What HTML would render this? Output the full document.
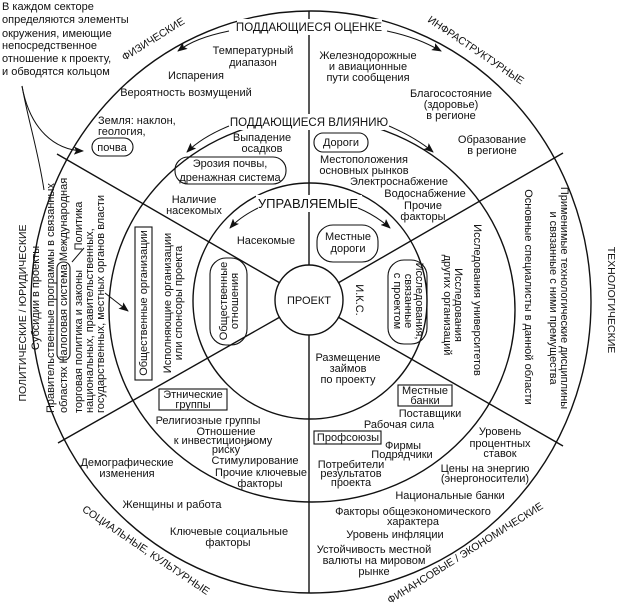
<!DOCTYPE html>
<html><head><meta charset="utf-8">
<style>
html,body{margin:0;padding:0;background:#fff;}
svg{display:block;font-family:"Liberation Sans",Arial,sans-serif;}
text{font-size:11px;fill:#111;}
.c{text-anchor:middle;}
.cap{font-size:11.5px;}
</style></head><body>
<svg width="620" height="603" viewBox="0 0 620 603" xmlns="http://www.w3.org/2000/svg">
<defs>
<marker id="ah" markerWidth="10" markerHeight="8" refX="9" refY="4" orient="auto" markerUnits="userSpaceOnUse">
<path d="M0,0 L10,4 L0,8 L2,4 Z" fill="#111"/>
</marker>
</defs>
<g fill="none" stroke="#111" stroke-width="1.4">
<ellipse cx="311" cy="302" rx="280" ry="291"/>
<ellipse cx="312" cy="310" rx="203" ry="192"/>
<ellipse cx="310" cy="301" rx="117" ry="118"/>
<ellipse cx="309" cy="300" rx="34" ry="35"/>
<line x1="309" y1="11" x2="309" y2="265"/>
<line x1="309" y1="335" x2="309" y2="593"/>
<line x1="280" y1="283" x2="57" y2="154"/>
<line x1="338" y1="283" x2="563" y2="153"/>
<line x1="280" y1="317" x2="58" y2="443"/>
<line x1="338" y1="317" x2="563" y2="446"/>
</g>
<g fill="#fff">
<rect x="237" y="19" width="145" height="16"/>
<rect x="235" y="114" width="149" height="16"/>
<rect x="256" y="195" width="106" height="17"/>
</g>
<!-- callout lines -->
<g fill="none" stroke="#111" stroke-width="1">
<path d="M22,86 C30,130 55,150 83,151" marker-end="url(#ah)"/>
<path d="M22,86 C28,120 38,150 44,190"/>
<path d="M105,293 L128,311" marker-end="url(#ah)"/>
<path d="M229,31 C205,36 190,42 178,51" marker-end="url(#ah)"/>
<path d="M387,31 C410,36 425,42 441,51" marker-end="url(#ah)"/>
<path d="M229,126 C212,133 198,141 187,152" marker-end="url(#ah)"/>
<path d="M389,126 C405,133 420,141 433,152" marker-end="url(#ah)"/>
<path d="M258,208 C248,213 238,219 230,228" marker-end="url(#ah)"/>
<path d="M358,208 C370,213 380,219 390,228" marker-end="url(#ah)"/>
<path d="M244,446 L252,441"/>
<path d="M84,248 L72,262"/>
</g>
<!-- blobs and boxes -->
<g fill="none" stroke="#111" stroke-width="1.1">
<rect x="92" y="138" width="41" height="18" rx="9"/>
<rect x="314" y="133" width="54" height="19" rx="9"/>
<rect x="175" y="157" width="111" height="27" rx="13"/>
<rect x="317" y="225" width="61" height="37" rx="16"/>
<rect x="210" y="258" width="37" height="87" rx="16"/>
<rect x="388" y="260" width="39" height="84" rx="16"/>
<rect x="57" y="262" width="13" height="98" rx="6"/>
<rect x="135" y="227" width="17" height="153"/>
<rect x="159" y="389" width="68" height="21"/>
<rect x="398" y="385" width="54" height="21"/>
<rect x="314" y="431" width="67" height="13"/>
</g>
<!-- top-left note -->
<text x="2" y="10">В каждом секторе</text>
<text x="2" y="23">определяются элементы</text>
<text x="2" y="37">окружения, имеющие</text>
<text x="2" y="49">непосредственное</text>
<text x="2" y="62">отношение к проекту,</text>
<text x="2" y="75">и обводятся кольцом</text>
<!-- ring headers -->
<text class="c cap" x="309" y="31">ПОДДАЮЩИЕСЯ ОЦЕНКЕ</text>
<text class="c cap" x="309" y="126">ПОДДАЮЩИЕСЯ ВЛИЯНИЮ</text>
<text class="c" x="308" y="208" style="font-size:13px">УПРАВЛЯЕМЫЕ</text>
<text class="c" x="309" y="304">ПРОЕКТ</text>
<!-- sector titles -->
<text class="c" style="font-size:10.5px" transform="translate(155,42) rotate(-32)">ФИЗИЧЕСКИЕ</text>
<text class="c" style="font-size:10.5px" transform="translate(474,53) rotate(34)">ИНФРАСТРУКТУРНЫЕ</text>
<text class="c" style="font-size:10.5px" transform="translate(608,300) rotate(90)">ТЕХНОЛОГИЧЕСКИЕ</text>
<text class="c" style="font-size:10.5px" transform="translate(26,313) rotate(-90)">ПОЛИТИЧЕСКИЕ / ЮРИДИЧЕСКИЕ</text>
<text class="c" style="font-size:10.5px" transform="translate(144,553) rotate(34)">СОЦИАЛЬНЫЕ, КУЛЬТУРНЫЕ</text>
<text class="c" style="font-size:10.5px" transform="translate(467,556) rotate(-32)">ФИНАНСОВЫЕ / ЭКОНОМИЧЕСКИЕ</text>
<!-- physical outer -->
<text class="c" x="253" y="54">Температурный</text>
<text class="c" x="253" y="66">диапазон</text>
<text class="c" x="196" y="79">Испарения</text>
<text class="c" x="186" y="96">Вероятность возмущений</text>
<text x="98" y="124">Земля: наклон,</text>
<text x="98" y="135">геология,</text>
<text class="c" x="112" y="151">почва</text>
<!-- infra outer -->
<text class="c" x="368" y="59">Железнодорожные</text>
<text class="c" x="368" y="70">и авиационные</text>
<text class="c" x="368" y="81">пути сообщения</text>
<text class="c" x="451" y="97">Благосостояние</text>
<text class="c" x="451" y="108">(здоровье)</text>
<text class="c" x="451" y="119">в регионе</text>
<text class="c" x="492" y="143">Образование</text>
<text class="c" x="492" y="154">в регионе</text>
<!-- middle top -->
<text class="c" x="262" y="141">Выпадение</text>
<text class="c" x="262" y="152">осадков</text>
<text class="c" x="230" y="167">Эрозия почвы,</text>
<text class="c" x="230" y="181">дренажная система</text>
<text class="c" x="194" y="203">Наличие</text>
<text class="c" x="194" y="214">насекомых</text>
<text class="c" x="341" y="146">Дороги</text>
<text class="c" x="364" y="163">Местоположения</text>
<text class="c" x="364" y="174">основных рынков</text>
<text class="c" x="399" y="185">Электроснабжение</text>
<text class="c" x="425" y="197">Водоснабжение</text>
<text class="c" x="423" y="209">Прочие</text>
<text class="c" x="423" y="220">факторы</text>
<!-- inner -->
<text class="c" x="266" y="244">Насекомые</text>
<text class="c" x="348" y="240">Местные</text>
<text class="c" x="348" y="252">дороги</text>
<text class="c" transform="translate(227,301) rotate(-90)">Общественные</text>
<text class="c" transform="translate(238,301) rotate(-90)">отношения</text>
<text class="c" transform="translate(356,300) rotate(90)">И.К.С.</text>
<text class="c" transform="translate(416,301) rotate(90)">Исследования,</text>
<text class="c" transform="translate(405,301) rotate(90)">связанные</text>
<text class="c" transform="translate(394,301) rotate(90)">с проектом</text>
<text class="c" x="348" y="361">Размещение</text>
<text class="c" x="348" y="372">займов</text>
<text class="c" x="348" y="383">по проекту</text>
<!-- right sector -->
<text class="c" transform="translate(455,305) rotate(90)">Исследования</text>
<text class="c" transform="translate(444,305) rotate(90)">других организаций</text>
<text class="c" transform="translate(474,300) rotate(90)">Исследования университетов</text>
<text class="c" transform="translate(525,297) rotate(90)">Основные специалисты в данной области</text>
<text class="c" transform="translate(561,298) rotate(90)">Применимые технологические дисциплины</text>
<text class="c" transform="translate(550,298) rotate(90)">и связанные с ними премущества</text>
<!-- left sector -->
<text class="c" transform="translate(39,298) rotate(-90)">Субсидии в проекты</text>
<text transform="translate(54,413) rotate(-90)">Правительственные программы в связанных</text>
<text transform="translate(67,413) rotate(-90)">областях  Налоговая система  Международная</text>
<text class="c" transform="translate(82,226) rotate(-90)">Политика</text>
<text transform="translate(82,413) rotate(-90)">торговая политика и законы</text>
<text transform="translate(93,413) rotate(-90)">национальных, правительственных,</text>
<text transform="translate(104,413) rotate(-90)">государственных, местных органов власти</text>
<text class="c" transform="translate(147,303) rotate(-90)">Общественные организации</text>
<text class="c" transform="translate(171,303) rotate(-90)">Исполняющие организации</text>
<text class="c" transform="translate(182,303) rotate(-90)">или спонсоры проекта</text>
<!-- lower left middle -->
<text class="c" x="193" y="398">Этнические</text>
<text class="c" x="193" y="408">группы</text>
<text class="c" x="208" y="424">Религиозные группы</text>
<text class="c" x="226" y="435">Отношение</text>
<text class="c" x="223" y="444">к инвестиционному</text>
<text class="c" x="226" y="453">риску</text>
<text class="c" x="255" y="464">Стимулирование</text>
<text class="c" x="261" y="476">Прочие ключевые</text>
<text class="c" x="260" y="487">факторы</text>
<!-- lower left outer -->
<text class="c" x="127" y="466">Демографические</text>
<text class="c" x="127" y="477">изменения</text>
<text class="c" x="172" y="508">Женщины и работа</text>
<text class="c" x="229" y="535">Ключевые социальные</text>
<text class="c" x="228" y="546">факторы</text>
<!-- lower right middle -->
<text class="c" x="425" y="394">Местные</text>
<text class="c" x="425" y="404">банки</text>
<text class="c" x="430" y="417">Поставщики</text>
<text class="c" x="399" y="428">Рабочая сила</text>
<text class="c" x="348" y="441">Профсоюзы</text>
<text class="c" x="403" y="449">Фирмы</text>
<text class="c" x="402" y="458">Подрядчики</text>
<text class="c" x="351" y="468">Потребители</text>
<text class="c" x="351" y="477">результатов</text>
<text class="c" x="351" y="486">проекта</text>
<!-- lower right outer -->
<text class="c" x="500" y="435">Уровень</text>
<text class="c" x="500" y="447">процентных</text>
<text class="c" x="500" y="457">ставок</text>
<text class="c" x="485" y="472">Цены на энергию</text>
<text class="c" x="485" y="482">(энергоносители)</text>
<text class="c" x="450" y="499">Национальные банки</text>
<text class="c" x="413" y="515">Факторы общеэкономического</text>
<text class="c" x="413" y="525">характера</text>
<text class="c" x="395" y="538">Уровень инфляции</text>
<text class="c" x="374" y="553">Устойчивость местной</text>
<text class="c" x="374" y="564">валюты на мировом</text>
<text class="c" x="374" y="575">рынке</text>
</svg>
</body></html>
